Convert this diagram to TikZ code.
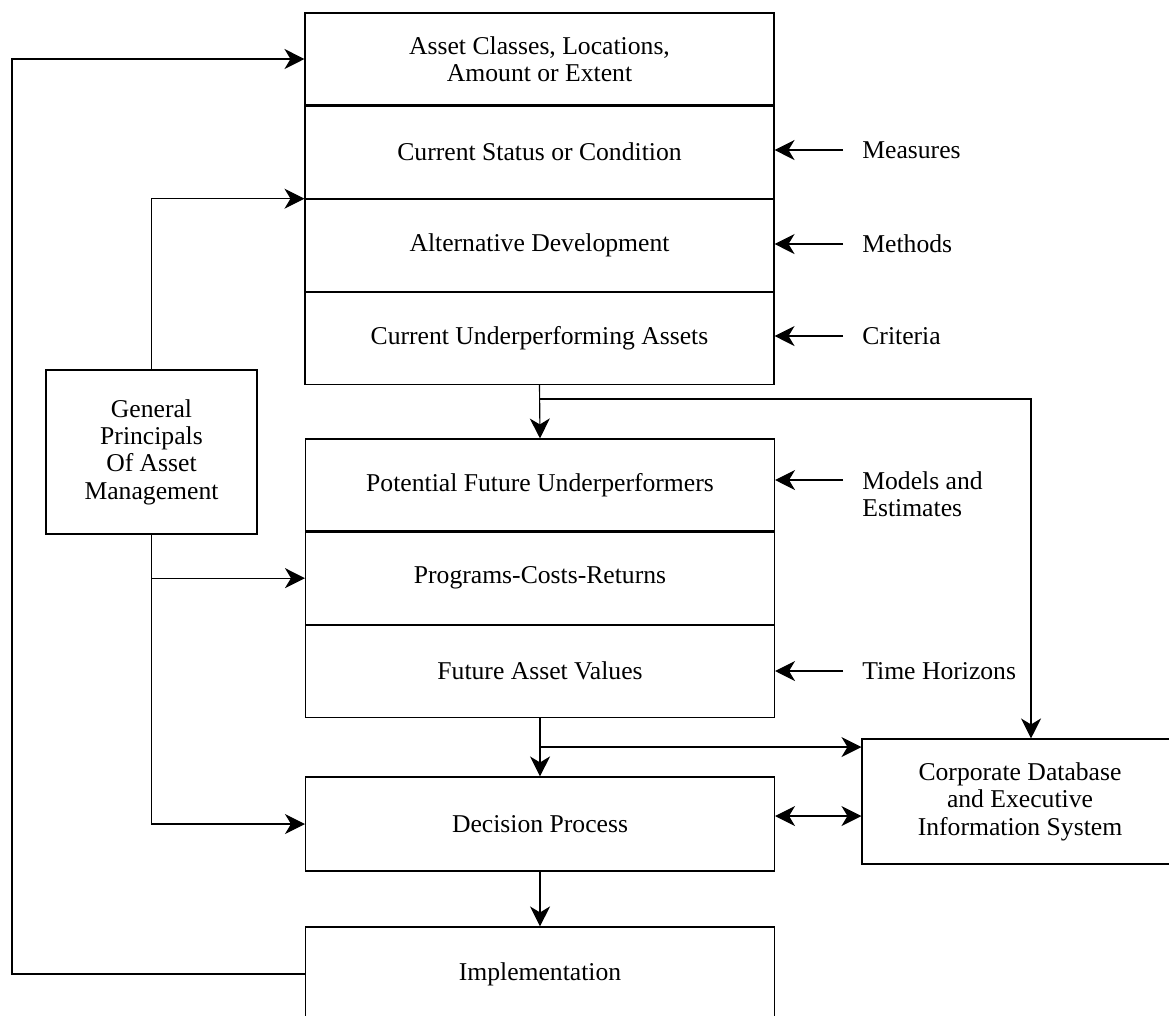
\documentclass[tikz,border=0pt]{standalone}
\usepackage{fontspec}
\setmainfont{Liberation Serif}
\usepackage{tikz}
\usetikzlibrary{arrows.meta,positioning,calc}
\tikzset{
    every node/.style={font=\fontsize{14.6}{15.6}\selectfont},
    cell/.style={
        draw, line width=0.65pt,
        minimum width=9.38cm, minimum height=1.84cm,
        align=center, inner sep=0pt
    },
    flow/.style={
        -{Stealth[length=0.4cm, width=0.4cm, inset=0.12cm]}, line width=0.65pt
    },
    flowboth/.style={
        {Stealth[length=0.4cm, width=0.4cm, inset=0.12cm]}-{Stealth[length=0.4cm, width=0.4cm, inset=0.12cm]}, line width=0.65pt
    },
    sidelbl/.style={
        anchor=west, align=left, inner xsep=0.38cm, inner ysep=0pt
    },
}

\begin{document}
\begin{tikzpicture}[x=0.02cm, y=-0.02cm]
    \useasboundingbox (0,0) rectangle (1169,1015);
    \clip (0,0) rectangle (1169,1015);

    % Inventory stack
    \node[cell] (classes) at (539.5,59) {Asset Classes, Locations,\\Amount or Extent};
    \node[cell, below=0pt of classes] (status) {Current Status or Condition};
    \node[cell, below=0pt of status] (altdev) {Alternative Development};
    \node[cell, below=0pt of altdev] (underperf) {Current Underperforming Assets};

    % Forecast stack
    \node[cell] (potential) at (540,485) {Potential Future Underperformers};
    \node[cell, below=0pt of potential] (programs) {Programs-Costs-Returns};
    \node[cell, below=0pt of programs] (futval) {Future Asset Values};

    % Decision and implementation
    \node[cell, minimum height=1.88cm] (decision) at (540,824) {Decision Process};
    \node[cell, minimum height=1.88cm] (implem) at (540,974) {Implementation};

    % Side boxes
    \node[cell, minimum width=6.32cm, minimum height=2.5cm] (corpdb) at (1020,801.5) {Corporate Database\\and Executive\\Information System};
    \node[cell, minimum width=4.22cm, minimum height=3.28cm] (principles) at (151.5,452) {General\\Principals\\Of Asset\\Management};

    % Inputs on the right
    \node[sidelbl] (measures) at (843,150) {Measures};
    \node[sidelbl] (methods) at (843,244) {Methods};
    \node[sidelbl] (criteria) at (843,336) {Criteria};
    \node[sidelbl] (models) at (843,494) {Models and\\Estimates};
    \node[sidelbl] (horizons) at (843,671) {Time Horizons};

    \draw[flow] (measures.west) -- (measures.west -| status.east);
    \draw[flow] (methods.west) -- (methods.west -| altdev.east);
    \draw[flow] (criteria.west) -- (criteria.west -| underperf.east);
    \coordinate (mdlin) at ($(models.west)+(0,-14)$);
    \draw[flow] (mdlin) -- (mdlin -| potential.east);
    \draw[flow] (horizons.west) -- (horizons.west -| futval.east);

    % Principles feed
    \draw[flow] (principles.north) |- (altdev.north west);
    \draw[flow] (principles.south) |- (decision.west);
    \draw[flow] (principles.south |- programs.west) -- (programs.west);

    % Main flow
    \draw[flow] (underperf.south) -- (potential.north);
    \draw[flow] (futval.south) -- (decision.north);
    \draw[flow] (decision.south) -- (implem.north);

    % Links to the database
    \coordinate (dbtap) at (1031,399);
    \draw[flow] (underperf.south |- dbtap) -- (dbtap) -- (dbtap |- corpdb.north);
    \coordinate (futtap) at (540,747);
    \draw[flow] (futtap) -- (futtap -| corpdb.west);
    \coordinate (dblink) at ($(decision.east)+(0,-8)$);
    \draw[flowboth] (dblink) -- (dblink -| corpdb.west);

    % Feedback loop
    \coordinate (fbk) at (12,974);
    \draw[flow] (implem.west) -- (fbk) |- (classes.west);
\end{tikzpicture}
\end{document}
